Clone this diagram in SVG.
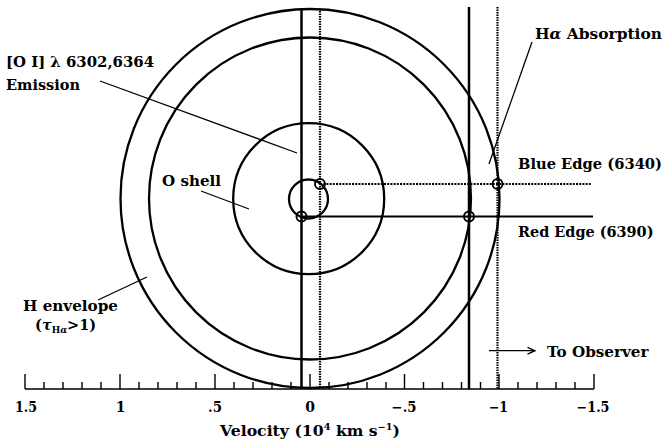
<svg xmlns="http://www.w3.org/2000/svg" width="664" height="444" viewBox="0 0 664 444">
<style>
.c{fill:none;stroke:#000;stroke-width:2.3}
.v{stroke:#000;stroke-width:2.5}
.d{stroke:#000;stroke-width:2.2;stroke-dasharray:1.6 0.9}
.dh{stroke:#000;stroke-width:2.2;stroke-dasharray:2 1.2}
.h{stroke:#000;stroke-width:2.1}
.l{stroke:#000;stroke-width:1.3;fill:none}
.m{fill:none;stroke:#000;stroke-width:1.9}
.t{font-family:"DejaVu Serif",serif;font-weight:bold;font-size:14.5px;fill:#000}
.n{font-family:"DejaVu Serif",serif;font-weight:bold;font-size:14px;fill:#000;text-anchor:middle}
.tk{stroke:#000;stroke-width:1.4}
</style>
<rect width="664" height="444" fill="#fff"/>
<g id="h-envelope"><circle class="c" cx="310" cy="198.5" r="189.5"/></g>
<g id="middle-shell"><circle class="c" cx="310" cy="198.5" r="161"/></g>
<g id="o-shell"><circle class="c" cx="308.7" cy="198.7" r="75.5"/></g>
<g id="core"><circle class="c" cx="308.5" cy="199" r="19.5"/></g>
<g id="connectors">
<line class="v" x1="301.5" y1="8.5" x2="301.5" y2="389"/>
<line class="d" x1="320" y1="8.5" x2="320" y2="389"/>
<line class="v" x1="469" y1="7" x2="469" y2="389"/>
<line class="d" x1="497.5" y1="7" x2="497.5" y2="389"/>
<line class="dh" x1="320" y1="184" x2="592" y2="184"/>
<line class="h" x1="301.5" y1="216.5" x2="593" y2="216.5"/>
<line class="l" x1="100" y1="81" x2="297" y2="153"/>
<line class="l" x1="201" y1="191" x2="249" y2="209"/>
<line class="l" x1="98" y1="300" x2="147" y2="277"/>
<line class="l" x1="532" y1="42" x2="489" y2="164"/>
<line class="l" x1="489" y1="350.7" x2="535" y2="350.7"/>
<polyline class="l" points="527.5,347.3 535,350.7 527.5,354.2"/>
</g>
<g id="markers">
<circle class="m" cx="301.5" cy="216.5" r="5"/>
<circle class="m" cx="320" cy="184" r="5"/>
<circle class="m" cx="469" cy="216.5" r="5"/>
<circle class="m" cx="497.5" cy="184" r="5"/>
</g>
<g id="axis">
<line x1="25" y1="389" x2="594" y2="389" stroke="#000" stroke-width="1.7"/>
<path class="tk" d="M25 374V389M120 374V389M215 374V389M310 374V389M404.5 374V389M499 374V389M594 374V389
M44 382V389M63 382V389M82 382V389M101 382V389
M139 382V389M158 382V389M177 382V389M196 382V389
M234 382V389M253 382V389M272 382V389M291 382V389
M329 382V389M348 382V389M367 382V389M386 382V389
M423.5 382V389M442.5 382V389M461.5 382V389M480.5 382V389
M518 382V389M537 382V389M556 382V389M575 382V389"/>
<text class="n" x="26" y="412" textLength="22" lengthAdjust="spacingAndGlyphs">1.5</text>
<text class="n" x="120.5" y="412">1</text>
<text class="n" x="215" y="412" textLength="14" lengthAdjust="spacingAndGlyphs">.5</text>
<text class="n" x="310" y="412">0</text>
<text class="n" x="404" y="412" textLength="25" lengthAdjust="spacingAndGlyphs">−.5</text>
<text class="n" x="498.5" y="412" textLength="19" lengthAdjust="spacingAndGlyphs">−1</text>
<text class="n" x="593" y="412" textLength="33" lengthAdjust="spacingAndGlyphs">−1.5</text>
<text class="t" x="220" y="436" font-size="15" textLength="180" lengthAdjust="spacingAndGlyphs">Velocity (10<tspan font-size="9" dy="-6">4</tspan><tspan dy="6"> km s</tspan><tspan font-size="9" dy="-6">−1</tspan><tspan dy="6">)</tspan></text>
</g>
<g id="labels">
<text class="t" x="6" y="66.7" textLength="148" lengthAdjust="spacingAndGlyphs">[O I] λ 6302,6364</text>
<text class="t" x="6" y="90" textLength="74" lengthAdjust="spacingAndGlyphs">Emission</text>
<text class="t" x="162" y="186" textLength="59" lengthAdjust="spacingAndGlyphs">O shell</text>
<text class="t" x="23" y="311" textLength="95" lengthAdjust="spacingAndGlyphs">H envelope</text>
<text class="t" x="35" y="329.5">(<tspan font-style="italic">τ</tspan><tspan font-size="9" dy="3">H<tspan font-style="italic">α</tspan></tspan><tspan dy="-3">&gt;1)</tspan></text>
<text class="t" x="535" y="39.3" textLength="127" lengthAdjust="spacingAndGlyphs">H<tspan font-style="italic">α</tspan> Absorption</text>
<text class="t" x="518" y="169" textLength="144" lengthAdjust="spacingAndGlyphs">Blue Edge (6340)</text>
<text class="t" x="518" y="237.3" textLength="135.5" lengthAdjust="spacingAndGlyphs">Red Edge (6390)</text>
<text class="t" x="547" y="356.7" textLength="101.5" lengthAdjust="spacingAndGlyphs">To Observer</text>
</g>
</svg>
